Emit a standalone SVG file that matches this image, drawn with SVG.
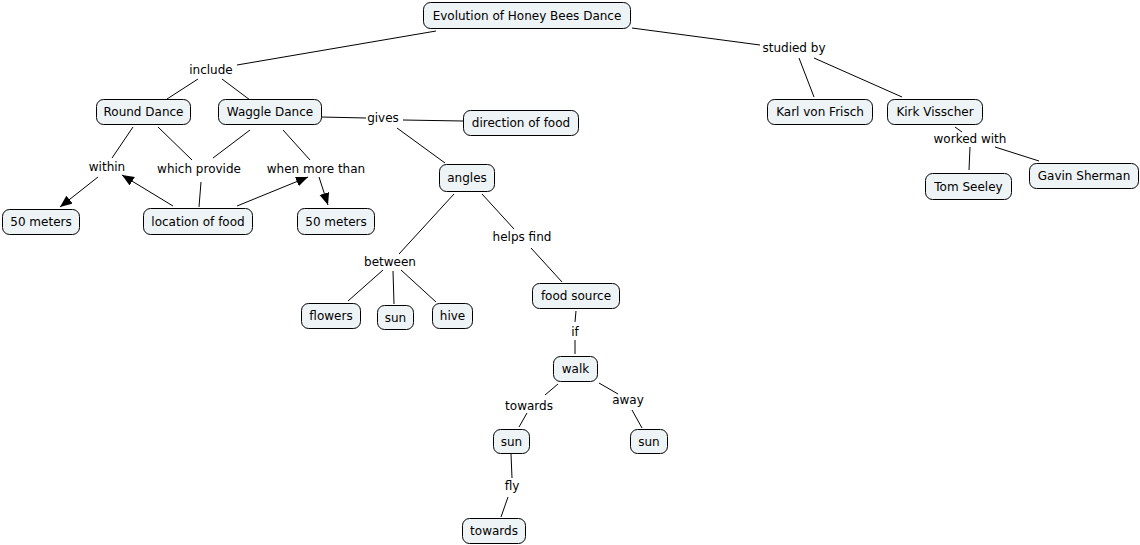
<svg xmlns="http://www.w3.org/2000/svg" width="1140" height="545" viewBox="0 0 1140 545">
<defs>
<style>
.n rect{fill:#eef3f6;stroke:#000;stroke-width:1}
text{font-family:"DejaVu Sans",Verdana,sans-serif;font-size:12px;fill:#000;text-anchor:middle;dominant-baseline:central}
#connectors line{stroke:#000;stroke-width:1}
.a{marker-end:url(#arr)}
</style>
<marker id="arr" markerUnits="userSpaceOnUse" markerWidth="13" markerHeight="11" refX="12" refY="5" orient="auto">
<path d="M0,0 L12,5 L0,10 z" fill="#000"/>
</marker>
</defs>
<rect width="1140" height="545" fill="#fff"/>
<g id="connectors">
<line x1="436" y1="31" x2="237" y2="65"/>
<line x1="198" y1="79" x2="167" y2="99"/>
<line x1="222" y1="79" x2="250" y2="100"/>
<line x1="632" y1="28" x2="760" y2="45"/>
<line x1="799" y1="58" x2="814" y2="97"/>
<line x1="814" y1="58" x2="902" y2="97"/>
<line x1="955" y1="127" x2="962" y2="132"/>
<line x1="970" y1="147" x2="969" y2="170"/>
<line x1="995" y1="147" x2="1039" y2="161"/>
<line x1="133" y1="127" x2="112" y2="158"/>
<line class="a" x1="98" y1="177" x2="60" y2="207"/>
<line x1="158" y1="127" x2="192" y2="160"/>
<line x1="250" y1="130" x2="213" y2="158"/>
<line x1="199" y1="207" x2="201" y2="182"/>
<line class="a" x1="173" y1="206" x2="122" y2="175"/>
<line class="a" x1="237" y1="206" x2="308" y2="177"/>
<line x1="283" y1="130" x2="310" y2="160"/>
<line class="a" x1="319" y1="177" x2="328" y2="205"/>
<line x1="321" y1="117" x2="366" y2="118"/>
<line x1="403" y1="120" x2="463" y2="121"/>
<line x1="397" y1="128" x2="445" y2="163"/>
<line x1="454" y1="194" x2="399" y2="254"/>
<line x1="482" y1="194" x2="514" y2="229"/>
<line x1="531" y1="248" x2="562" y2="282"/>
<line x1="383" y1="270" x2="348" y2="301"/>
<line x1="393" y1="271" x2="394" y2="304"/>
<line x1="401" y1="270" x2="436" y2="302"/>
<line x1="576" y1="311" x2="575" y2="322"/>
<line x1="575" y1="340" x2="575" y2="354"/>
<line x1="558" y1="384" x2="545" y2="395"/>
<line x1="527" y1="413" x2="519" y2="427"/>
<line x1="599" y1="383" x2="618" y2="394"/>
<line x1="632" y1="410" x2="642" y2="428"/>
<line x1="511" y1="454" x2="512" y2="478"/>
<line x1="508" y1="497" x2="501" y2="517"/>
</g>
<g id="labels">
<text x="211" y="70">include</text>
<text x="383" y="118">gives</text>
<text x="794" y="48">studied by</text>
<text x="107" y="167">within</text>
<text x="199" y="169">which provide</text>
<text x="316" y="169">when more than</text>
<text x="390" y="262">between</text>
<text x="522" y="237">helps find</text>
<text x="575" y="332">if</text>
<text x="529" y="406">towards</text>
<text x="628" y="400">away</text>
<text x="512" y="486">fly</text>
<text x="970" y="139">worked with</text>
</g>
<g id="n1" class="n"><rect x="423.5" y="2.5" width="207" height="26" rx="7"/><text x="527" y="15.5">Evolution of Honey Bees Dance</text></g>
<g id="n2" class="n"><rect x="96.5" y="99.5" width="94" height="25" rx="7"/><text x="143.5" y="112">Round Dance</text></g>
<g id="n3" class="n"><rect x="218.5" y="99.5" width="103" height="25" rx="7"/><text x="270" y="112">Waggle Dance</text></g>
<g id="n4" class="n"><rect x="2.5" y="209.5" width="77" height="25" rx="7"/><text x="41" y="222">50 meters</text></g>
<g id="n5" class="n"><rect x="143.5" y="208.5" width="109" height="26" rx="7"/><text x="198" y="221.5">location of food</text></g>
<g id="n6" class="n"><rect x="297.5" y="208.5" width="77" height="26" rx="7"/><text x="336" y="221.5">50 meters</text></g>
<g id="n7" class="n"><rect x="463.5" y="110.5" width="115" height="25" rx="7"/><text x="521" y="123">direction of food</text></g>
<g id="n8" class="n"><rect x="439.5" y="164.5" width="55" height="27" rx="7"/><text x="467" y="178">angles</text></g>
<g id="n9" class="n"><rect x="301.5" y="303.5" width="59" height="25" rx="7"/><text x="331" y="316">flowers</text></g>
<g id="n10" class="n"><rect x="377.5" y="305.5" width="36" height="24" rx="7"/><text x="395.5" y="317.5">sun</text></g>
<g id="n11" class="n"><rect x="432.5" y="303.5" width="40" height="25" rx="7"/><text x="452.5" y="316">hive</text></g>
<g id="n12" class="n"><rect x="532.5" y="283.5" width="87" height="25" rx="7"/><text x="576" y="296">food source</text></g>
<g id="n13" class="n"><rect x="553.5" y="356.5" width="44" height="25" rx="7"/><text x="575.5" y="369">walk</text></g>
<g id="n14" class="n"><rect x="493.5" y="429.5" width="36" height="24" rx="7"/><text x="511.5" y="441.5">sun</text></g>
<g id="n15" class="n"><rect x="630.5" y="429.5" width="37" height="24" rx="7"/><text x="649" y="441.5">sun</text></g>
<g id="n16" class="n"><rect x="462.5" y="518.5" width="63" height="25" rx="7"/><text x="494" y="531">towards</text></g>
<g id="n17" class="n"><rect x="767.5" y="99.5" width="105" height="25" rx="7"/><text x="820" y="112">Karl von Frisch</text></g>
<g id="n18" class="n"><rect x="887.5" y="99.5" width="95" height="25" rx="7"/><text x="935" y="112">Kirk Visscher</text></g>
<g id="n19" class="n"><rect x="925.5" y="173.5" width="86" height="26" rx="7"/><text x="968.5" y="186.5">Tom Seeley</text></g>
<g id="n20" class="n"><rect x="1029.5" y="163.5" width="109" height="25" rx="7"/><text x="1084" y="176">Gavin Sherman</text></g>
</svg>
